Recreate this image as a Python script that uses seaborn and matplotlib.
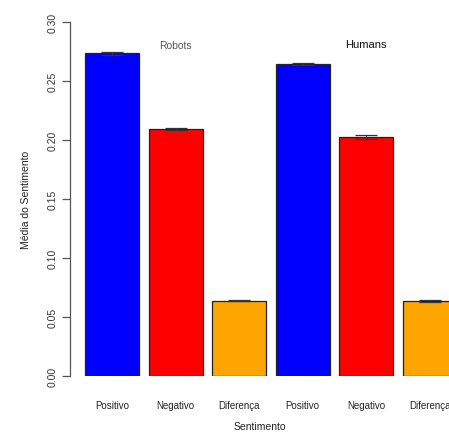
import matplotlib
matplotlib.use("Agg")
import matplotlib.pyplot as plt
import seaborn as sns
import pandas as pd
import numpy as np

# Mean sentiment per group (Robots, Humans) and its standard error
grupos = ["Robots", "Robots", "Robots", "Humans", "Humans", "Humans"]
sentimentos = ["Positivo", "Negativo", "Diferença", "Positivo", "Negativo", "Diferença"]
medias = [0.2735, 0.2093, 0.0638, 0.2642, 0.2028, 0.0638]
erros = [0.0015, 0.0010, 0.0005, 0.0008, 0.0018, 0.0007]
cores = ["#0000FF", "#FF0000", "#FFA500", "#0000FF", "#FF0000", "#FFA500"]
titulos_grupo = ["Robots", "Humans"]
yticks = [0.00, 0.05, 0.10, 0.15, 0.20, 0.25, 0.30]

df = pd.DataFrame({
    "barra": [f"{g}-{s}" for g, s in zip(grupos, sentimentos)],
    "grupo": grupos,
    "sentimento": sentimentos,
    "media": medias,
    "erro": erros,
})

sns.set_style("white")
plt.rcParams["font.family"] = ["Liberation Sans", "DejaVu Sans"]

fig = plt.figure(figsize=(4.49, 4.35), dpi=100)
ax = fig.add_axes([70 / 449, 58 / 435, 379 / 449, 354 / 435])

sns.barplot(data=df, x="barra", y="media", hue="barra", palette=cores,
            saturation=1, legend=False, width=0.85, edgecolor="#222222",
            linewidth=0.9, errorbar=None, ax=ax)

xs = np.arange(len(df))
ax.errorbar(xs, df["media"], yerr=df["erro"], fmt="none", ecolor="#333333",
            elinewidth=0.9, capsize=8, capthick=0.9, zorder=5)

ax.set_xlim(-0.66, 5.30)
ax.set_ylim(0, 0.30)

for s in ["top", "right", "bottom"]:
    ax.spines[s].set_visible(False)
ax.spines["left"].set_color("#555555")
ax.spines["left"].set_linewidth(0.9)

ax.set_yticks(yticks)
ax.set_yticklabels([f"{v:.2f}" for v in yticks], rotation=90, va="center",
                   fontsize=7.5, color="#333333")
ax.tick_params(axis="y", length=6, width=0.9, color="#555555", pad=3, left=True)

ax.set_xticks(xs)
ax.set_xticklabels(sentimentos, fontsize=7, color="#222222")
ax.tick_params(axis="x", length=0, pad=17)

ax.set_xlabel("Sentimento", fontsize=7.5, color="#222222", labelpad=8)
ax.set_ylabel("Média do Sentimento", fontsize=7.5, color="#222222", labelpad=12)

# Group titles above the middle bar of each group
ax.text(1, 0.2805, titulos_grupo[0], ha="center", va="center",
        fontsize=7.5, color="#555555")
ax.text(4, 0.2815, titulos_grupo[1], ha="center", va="center",
        fontsize=8, color="#111111")

fig.savefig("out.png", dpi=100)
